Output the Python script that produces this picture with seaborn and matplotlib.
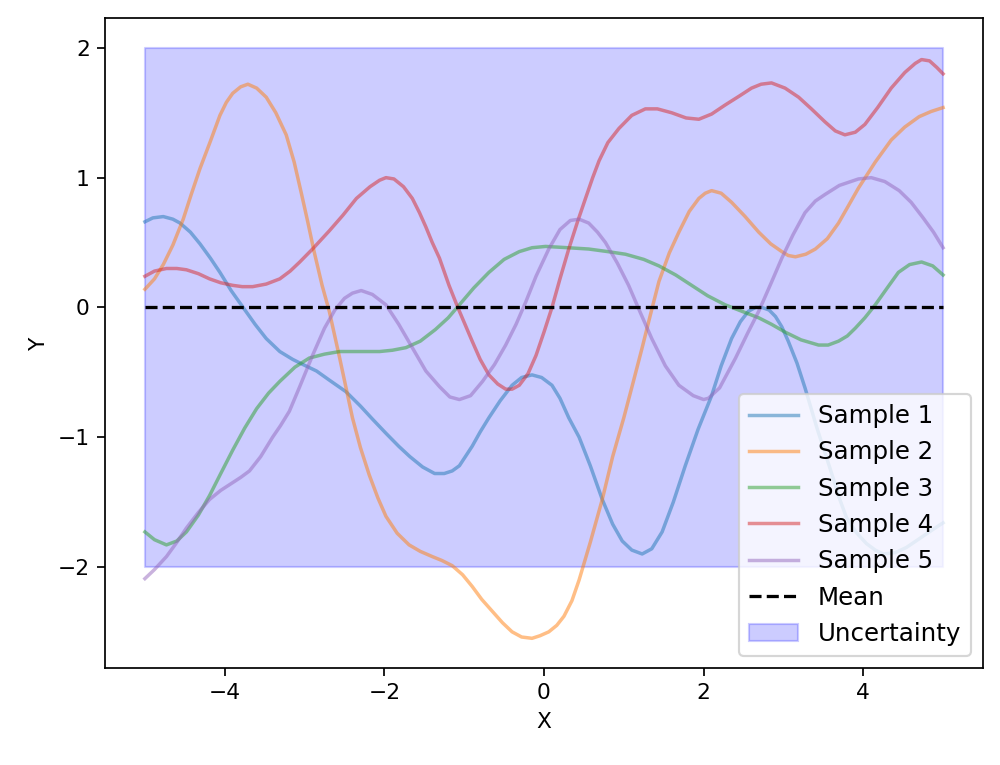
import numpy as np
import matplotlib
matplotlib.use("Agg")
import matplotlib.pyplot as plt
import seaborn as sns

# values
s1_x = [-5.0, -4.9, -4.77, -4.65, -4.56, -4.43, -4.31, -4.18, -4.06, -3.92, -3.77, -3.62, -3.48, -3.31,
        -3.15, -3.02, -2.85, -2.69, -2.48, -2.30, -2.15, -1.98, -1.82, -1.68, -1.52, -1.37, -1.25, -1.15,
        -1.06, -0.90, -0.80, -0.69, -0.55, -0.40, -0.28, -0.15, -0.03, 0.10, 0.20, 0.31, 0.44, 0.58, 0.73,
        0.86, 0.98, 1.10, 1.23, 1.35, 1.48, 1.62, 1.77, 1.93, 2.10, 2.22, 2.35, 2.46, 2.56, 2.65, 2.73,
        2.82, 2.90, 2.98, 3.06, 3.17, 3.27, 3.42, 3.52, 3.62, 3.70, 3.79, 3.92, 4.04, 4.15, 4.25, 4.40,
        4.54, 4.66, 4.78, 4.90, 5.0]
s1_y = [0.66, 0.69, 0.70, 0.68, 0.65, 0.58, 0.49, 0.38, 0.27, 0.13, 0.0, -0.13, -0.24, -0.34,
        -0.40, -0.44, -0.49, -0.56, -0.65, -0.76, -0.86, -0.97, -1.07, -1.15, -1.23, -1.28, -1.28, -1.26,
        -1.22, -1.07, -0.96, -0.85, -0.72, -0.60, -0.54, -0.52, -0.54, -0.60, -0.70, -0.85, -1.00, -1.22, -1.48,
        -1.67, -1.80, -1.87, -1.90, -1.86, -1.73, -1.50, -1.22, -0.94, -0.68, -0.45, -0.24, -0.11, -0.03, 0.0, 0.0,
        -0.02, -0.07, -0.15, -0.26, -0.43, -0.62, -0.93, -1.12, -1.31, -1.47, -1.62, -1.74, -1.82, -1.87, -1.90, -1.89,
        -1.85, -1.80, -1.75, -1.70, -1.66]

s2_x = [-5.0, -4.88, -4.77, -4.65, -4.52, -4.42, -4.31, -4.18, -4.06, -3.98, -3.90, -3.80, -3.71, -3.60,
        -3.48, -3.36, -3.23, -3.13, -3.04, -2.96, -2.88, -2.78, -2.69, -2.56, -2.48, -2.40, -2.30, -2.19,
        -2.08, -1.98, -1.84, -1.69, -1.55, -1.40, -1.28, -1.15, -1.02, -0.90, -0.78, -0.65, -0.52, -0.40,
        -0.28, -0.15, -0.05, 0.06, 0.16, 0.25, 0.35, 0.44, 0.58, 0.73, 0.86, 1.0, 1.12, 1.23, 1.34, 1.44,
        1.57, 1.69, 1.82, 1.94, 2.02, 2.10, 2.22, 2.35, 2.52, 2.69, 2.84, 2.98, 3.06, 3.15, 3.28, 3.40,
        3.55, 3.69, 3.82, 3.94, 4.15, 4.35, 4.52, 4.70, 4.85, 5.0]
s2_y = [0.14, 0.22, 0.33, 0.48, 0.68, 0.87, 1.07, 1.28, 1.48, 1.58, 1.65, 1.70, 1.72, 1.69,
        1.62, 1.50, 1.33, 1.12, 0.88, 0.66, 0.43, 0.17, -0.03, -0.39, -0.62, -0.85, -1.08, -1.29,
        -1.47, -1.61, -1.74, -1.83, -1.88, -1.92, -1.95, -1.99, -2.06, -2.15, -2.25, -2.34, -2.43, -2.50,
        -2.54, -2.55, -2.53, -2.50, -2.45, -2.38, -2.26, -2.10, -1.81, -1.48, -1.15, -0.85, -0.57, -0.31, -0.04, 0.20,
        0.42, 0.58, 0.74, 0.84, 0.88, 0.90, 0.88, 0.81, 0.70, 0.58, 0.49, 0.43, 0.40, 0.39, 0.41, 0.45,
        0.53, 0.65, 0.79, 0.92, 1.12, 1.29, 1.39, 1.47, 1.51, 1.54]

s3_x = [-5.0, -4.88, -4.73, -4.60, -4.48, -4.33, -4.19, -4.05, -3.90, -3.75, -3.60, -3.45, -3.31, -3.12,
        -2.94, -2.75, -2.56, -2.30, -2.06, -1.90, -1.73, -1.55, -1.36, -1.20, -1.06, -0.88, -0.69, -0.50,
        -0.31, -0.15, 0.02, 0.30, 0.56, 0.80, 1.02, 1.25, 1.44, 1.65, 1.85, 2.05, 2.27, 2.48, 2.69, 2.85,
        3.02, 3.22, 3.44, 3.56, 3.69, 3.80, 3.90, 4.02, 4.15, 4.30, 4.44, 4.58, 4.73, 4.87, 5.0]
s3_y = [-1.73, -1.79, -1.83, -1.80, -1.73, -1.60, -1.45, -1.28, -1.10, -0.93, -0.78, -0.66, -0.57, -0.46,
        -0.39, -0.36, -0.34, -0.34, -0.34, -0.33, -0.31, -0.26, -0.17, -0.08, 0.02, 0.15, 0.27, 0.37,
        0.43, 0.46, 0.47, 0.46, 0.45, 0.43, 0.41, 0.37, 0.32, 0.25, 0.17, 0.09, 0.02, -0.03, -0.08, -0.13,
        -0.19, -0.25, -0.29, -0.29, -0.26, -0.22, -0.16, -0.08, 0.02, 0.15, 0.27, 0.33, 0.35, 0.32, 0.25]

s4_x = [-5.0, -4.88, -4.73, -4.60, -4.48, -4.33, -4.19, -4.05, -3.90, -3.78, -3.65, -3.48, -3.31, -3.18,
        -3.06, -2.90, -2.69, -2.52, -2.35, -2.18, -2.06, -1.98, -1.88, -1.76, -1.65, -1.56, -1.48, -1.40,
        -1.31, -1.19, -1.08, -0.99, -0.90, -0.80, -0.69, -0.58, -0.48, -0.40, -0.31, -0.20, -0.10, 0.0,
        0.10, 0.20, 0.31, 0.42, 0.52, 0.61, 0.69, 0.80, 0.94, 1.10, 1.27, 1.42, 1.60, 1.78, 1.94, 2.10,
        2.27, 2.45, 2.60, 2.72, 2.85, 3.02, 3.19, 3.35, 3.52, 3.65, 3.77, 3.90, 4.02, 4.18, 4.35, 4.52,
        4.65, 4.73, 4.83, 4.92, 5.0]
s4_y = [0.24, 0.28, 0.30, 0.30, 0.29, 0.26, 0.22, 0.19, 0.17, 0.16, 0.16, 0.18, 0.22, 0.28,
        0.35, 0.45, 0.59, 0.71, 0.84, 0.93, 0.98, 1.00, 0.99, 0.93, 0.84, 0.73, 0.62, 0.50,
        0.38, 0.17, 0.0, -0.13, -0.26, -0.40, -0.52, -0.59, -0.63, -0.63, -0.60, -0.51, -0.37, -0.19,
        0.0, 0.22, 0.45, 0.66, 0.84, 1.00, 1.13, 1.27, 1.38, 1.48, 1.53, 1.53, 1.50, 1.46, 1.45, 1.49,
        1.56, 1.63, 1.69, 1.72, 1.73, 1.69, 1.62, 1.53, 1.43, 1.36, 1.33, 1.35, 1.41, 1.54, 1.69, 1.81,
        1.88, 1.91, 1.90, 1.85, 1.80]

s5_x = [-5.0, -4.88, -4.73, -4.60, -4.48, -4.33, -4.19, -4.05, -3.90, -3.80, -3.69, -3.55, -3.40, -3.30,
        -3.19, -3.06, -2.90, -2.75, -2.62, -2.50, -2.40, -2.29, -2.15, -1.98, -1.82, -1.65, -1.48, -1.31,
        -1.18, -1.06, -0.92, -0.77, -0.62, -0.48, -0.35, -0.23, -0.10, 0.06, 0.20, 0.33, 0.44, 0.56, 0.67,
        0.77, 0.92, 1.06, 1.20, 1.35, 1.52, 1.69, 1.87, 2.00, 2.06, 2.20, 2.40, 2.55, 2.69, 2.84, 2.98,
        3.12, 3.27, 3.40, 3.52, 3.70, 3.94, 4.10, 4.27, 4.45, 4.60, 4.75, 4.88, 5.0]
s5_y = [-2.09, -2.02, -1.92, -1.81, -1.70, -1.58, -1.48, -1.41, -1.35, -1.31, -1.26, -1.15, -1.00, -0.91,
        -0.80, -0.61, -0.37, -0.16, -0.02, 0.07, 0.11, 0.13, 0.10, 0.02, -0.13, -0.31, -0.49, -0.61,
        -0.69, -0.71, -0.68, -0.57, -0.44, -0.29, -0.13, 0.04, 0.24, 0.45, 0.60, 0.67, 0.68, 0.65, 0.58,
        0.50, 0.34, 0.17, -0.03, -0.24, -0.45, -0.60, -0.68, -0.71, -0.70, -0.62, -0.39, -0.20, -0.03, 0.18, 0.38,
        0.56, 0.73, 0.82, 0.87, 0.94, 0.99, 1.00, 0.97, 0.90, 0.81, 0.69, 0.58, 0.46]

mean_x = [-5.0, 5.0]
mean_y = [0.0, 0.0]
band_lower = [-2.0, -2.0]
band_upper = [2.0, 2.0]

samples = [(s1_x, s1_y), (s2_x, s2_y), (s3_x, s3_y), (s4_x, s4_y), (s5_x, s5_y)]
labels = [f"Sample {i}" for i in range(1, 6)]


def main():
    fig, ax = plt.subplots(figsize=(6.4, 4.896), dpi=156.25)
    fig.subplots_adjust(left=0.105, right=0.983, bottom=0.127, top=0.976)
    colors = sns.color_palette("tab10", 5)

    for (xs, ys), lab, c in zip(samples, labels, colors):
        assert len(xs) == len(ys), lab
        sns.lineplot(x=xs, y=ys, label=lab, color=c, alpha=0.5, linewidth=1.6, ax=ax)

    sns.lineplot(x=mean_x, y=mean_y, color="black", linestyle="--", linewidth=1.5, label="Mean", ax=ax)
    ax.fill_between(mean_x, band_lower, band_upper, color="blue", alpha=0.2, label="Uncertainty")

    ax.set_xlabel("X")
    ax.set_ylabel("Y")
    ax.legend(loc="lower right", fontsize=11.3)

    fig.savefig("out.png", dpi=156.25)
    plt.close(fig)


if __name__ == "__main__":
    main()
